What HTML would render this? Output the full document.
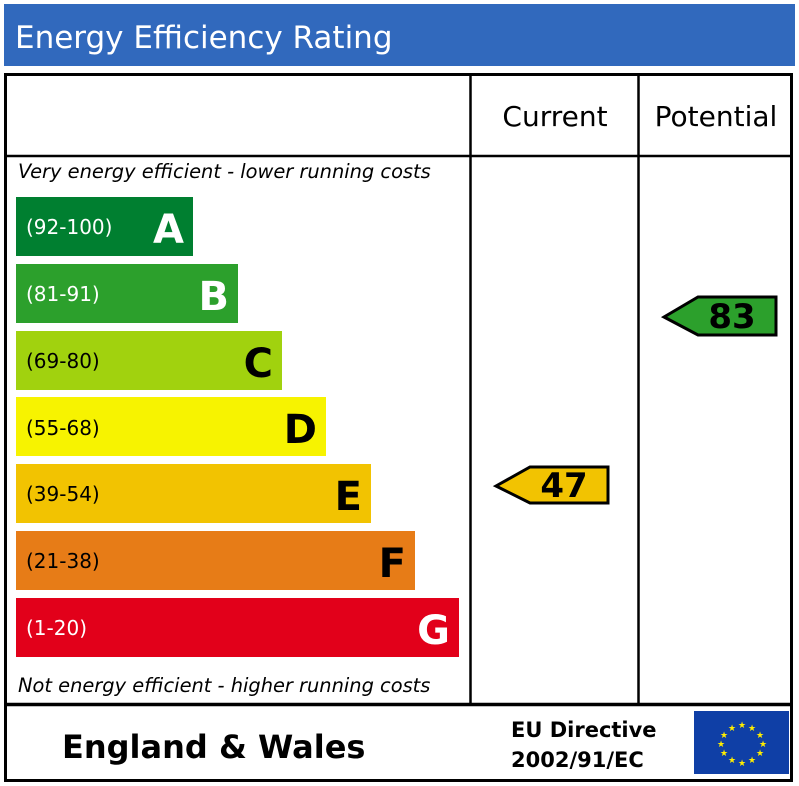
<!DOCTYPE html>
<html><head><style>body{margin:0;background:#fff}svg{display:block}</style></head>
<body>
<svg width="799" height="786" xmlns="http://www.w3.org/2000/svg" font-family="'DejaVu Sans','Liberation Sans',sans-serif">
<rect x="4" y="4" width="791" height="62" fill="#3169bd"/>
<text x="15" y="48" fill="#fff" font-size="31">Energy Efficiency Rating</text>
<rect x="5.5" y="74.5" width="786" height="706" fill="none" stroke="#000" stroke-width="3"/>
<line x1="470.5" y1="74" x2="470.5" y2="704" stroke="#000" stroke-width="2.5"/>
<line x1="638.5" y1="74" x2="638.5" y2="704" stroke="#000" stroke-width="2.5"/>
<line x1="5" y1="156" x2="792" y2="156" stroke="#000" stroke-width="2.5"/>
<line x1="5" y1="704.5" x2="792" y2="704.5" stroke="#000" stroke-width="3.5"/>
<text x="555" y="126" font-size="28" text-anchor="middle">Current</text>
<text x="716" y="126" font-size="28" text-anchor="middle">Potential</text>
<text x="18" y="178" font-size="19.4" font-style="italic">Very energy efficient - lower running costs</text>
<text x="18" y="692" font-size="19.4" font-style="italic">Not energy efficient - higher running costs</text>
<g font-size="20">
<rect x="16" y="197" width="177" height="59" fill="#007f30"/><text x="26" y="234" fill="#fff">(92-100)</text><text x="184" y="243" fill="#fff" font-size="40" font-weight="bold" text-anchor="end">A</text>
<rect x="16" y="264" width="222" height="59" fill="#2ca02c"/><text x="26" y="301" fill="#fff">(81-91)</text><text x="229" y="310" fill="#fff" font-size="40" font-weight="bold" text-anchor="end">B</text>
<rect x="16" y="331" width="266" height="59" fill="#a1d20e"/><text x="26" y="368" fill="#000">(69-80)</text><text x="273" y="377" fill="#000" font-size="40" font-weight="bold" text-anchor="end">C</text>
<rect x="16" y="397" width="310" height="59" fill="#f7f300"/><text x="26" y="435" fill="#000">(55-68)</text><text x="317" y="443" fill="#000" font-size="40" font-weight="bold" text-anchor="end">D</text>
<rect x="16" y="464" width="355" height="59" fill="#f2c301"/><text x="26" y="501" fill="#000">(39-54)</text><text x="362" y="510" fill="#000" font-size="40" font-weight="bold" text-anchor="end">E</text>
<rect x="16" y="531" width="399" height="59" fill="#e77c17"/><text x="26" y="568" fill="#000">(21-38)</text><text x="406" y="577" fill="#000" font-size="40" font-weight="bold" text-anchor="end">F</text>
<rect x="16" y="598" width="443" height="59" fill="#e2001a"/><text x="26" y="635" fill="#fff">(1-20)</text><text x="450" y="644" fill="#fff" font-size="40" font-weight="bold" text-anchor="end">G</text>
</g>
<polygon points="496,486 530,467 608,467 608,503 530,503" fill="#f2c301" stroke="#000" stroke-width="3"/>
<text x="564" y="497" font-size="34" font-weight="bold" text-anchor="middle">47</text>
<polygon points="664,317 698,297 776,297 776,335 698,335" fill="#2ca02c" stroke="#000" stroke-width="3"/>
<text x="732" y="328" font-size="34" font-weight="bold" text-anchor="middle">83</text>
<text x="62" y="758" font-size="32" font-weight="bold">England &amp; Wales</text>
<text x="511" y="737" font-size="21" font-weight="bold">EU Directive</text>
<text x="511" y="767" font-size="21" font-weight="bold">2002/91/EC</text>
<rect x="694" y="711" width="95" height="63" fill="#0f3fa6"/>
<g fill="#ffed00" font-size="9" text-anchor="middle">
<text x="742" y="728">★</text><text x="752" y="731">★</text><text x="760" y="738">★</text><text x="763" y="747">★</text><text x="760" y="756">★</text><text x="752" y="763">★</text><text x="742" y="766">★</text><text x="732" y="763">★</text><text x="724" y="756">★</text><text x="721" y="747">★</text><text x="724" y="738">★</text><text x="732" y="731">★</text>
</g>
</svg>
</body></html>
